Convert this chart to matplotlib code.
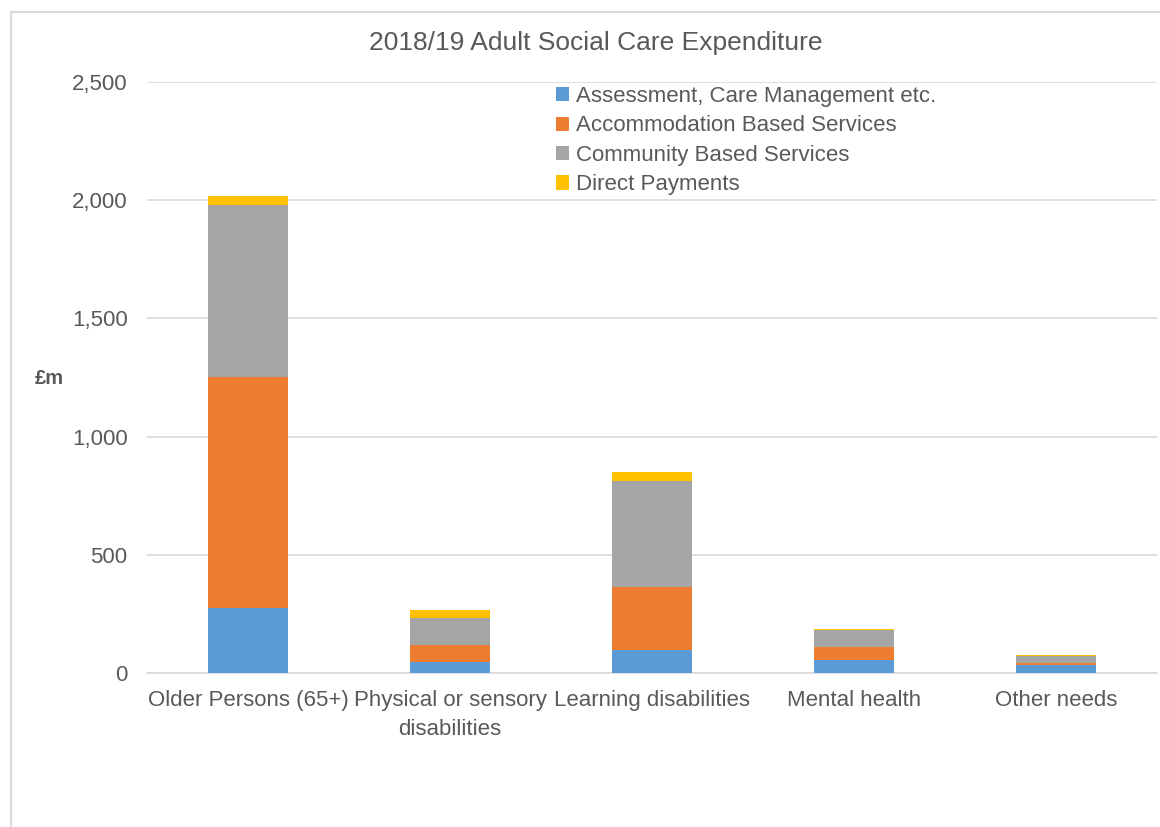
import matplotlib.pyplot as plt
import numpy as np
from matplotlib.patches import Rectangle
from matplotlib.ticker import FuncFormatter

plt.rcParams['font.family'] = ['Liberation Sans', 'DejaVu Sans']

# spend by client group, £m
groups = ['Older Persons (65+)', 'Physical or sensory\ndisabilities',
          'Learning disabilities', 'Mental health', 'Other needs']
assessment = [276, 45, 99, 56, 32]
accommodation = [974, 75, 266, 52, 9]
community = [730, 113, 448, 75, 32]
direct = [39, 35, 39, 4, 4]

series_names = ['Assessment, Care Management etc.', 'Accommodation Based Services',
                'Community Based Services', 'Direct Payments']
colours = ['#5B9BD5', '#ED7D31', '#A5A5A5', '#FFC000']
text_col = '#595959'
grid_col = '#d9d9d9'

W, H = 1160, 827
fig = plt.figure(figsize=(W / 100, H / 100), dpi=100)
ax = fig.add_axes([147 / W, 1 - 673 / H, (1157 - 147) / W, (673 - 82) / H])

x = np.arange(len(groups))
bottom = np.zeros(len(groups))
for vals, name, col in zip([assessment, accommodation, community, direct], series_names, colours):
    ax.bar(x, vals, 0.4, bottom=bottom, color=col, label=name, zorder=3)
    bottom += np.array(vals)

ax.set_xlim(-0.5, len(groups) - 0.5)
ax.set_ylim(0, 2500)
ax.set_yticks(range(0, 2501, 500))
ax.yaxis.set_major_formatter(FuncFormatter(lambda v, p: f'{int(v):,}'))
ax.set_xticks(x)
ax.set_xticklabels(groups, linespacing=1.5)
ax.grid(axis='y', color=grid_col, lw=1.2, zorder=0)
for s in ['top', 'right', 'left']:
    ax.spines[s].set_visible(False)
ax.spines['bottom'].set_color(grid_col)
ax.spines['bottom'].set_linewidth(1.2)
ax.tick_params(axis='both', length=0, labelsize=16, labelcolor=text_col)
ax.tick_params(axis='y', pad=14)
ax.tick_params(axis='x', pad=12)

fig.text(596 / W, 1 - 43 / H, '2018/19 Adult Social Care Expenditure',
         ha='center', va='center', fontsize=19, color=text_col)
fig.text(49 / W, 1 - 378 / H, '£m', ha='center', va='center',
         fontsize=14.5, fontweight='bold', color=text_col)

ax.legend(loc='upper left', bbox_to_anchor=(556 / W, 1 - 86 / H), bbox_transform=fig.transFigure,
          frameon=False, fontsize=16, labelcolor=text_col, handlelength=0.6, handleheight=0.6,
          handletextpad=0.3, labelspacing=0.38, borderpad=0, borderaxespad=0)

# light chart-area frame
fig.patches.append(Rectangle((11 / W, -0.1), 1.2, 1.1 - 12 / H, transform=fig.transFigure,
                             fill=False, edgecolor=grid_col, lw=1.5))

fig.savefig('out.png', dpi=100)
